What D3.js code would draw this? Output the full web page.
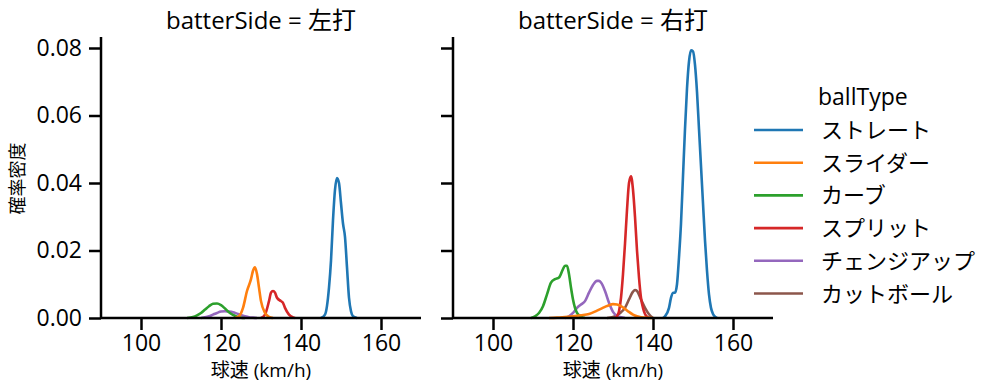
<!DOCTYPE html>
<html>
<head>
<meta charset="utf-8">
<script src="https://cdn.jsdelivr.net/npm/d3@7"></script>
<style>
  body { margin: 0; background: #fff; }
  svg text { font-family: "Open Sans", "Noto Sans CJK JP", sans-serif; fill: #000; }
</style>
</head>
<body>
<svg id="chart" width="999" height="391"></svg>
<script>
// ball types in legend order, with their colours
const ballTypes = ["ストレート", "スライダー", "カーブ", "スプリット", "チェンジアップ", "カットボール"];
const colors = ["#1f77b4", "#ff7f0e", "#2ca02c", "#d62728", "#9467bd", "#8c564b"];
const panels = ["左打", "右打"];
const xTicks = [100, 120, 140, 160];
const yTicks = [0, 0.02, 0.04, 0.06, 0.08];

// density curves: [speed, density]
const leftStraight = [[145,0],[146,0.001],[147,0.009],[147.5,0.017],[148,0.029],[148.5,0.038],[149,0.0415],[149.5,0.040],[150,0.034],[150.5,0.028],[151,0.024],[151.5,0.015],[152,0.006],[152.5,0.002],[153,0.0005],[154,0]];
const leftSlider = [[123.5,0],[124.5,0.0005],[125.5,0.003],[126.5,0.008],[127.5,0.0115],[128,0.014],[128.5,0.015],[129,0.013],[129.5,0.009],[130,0.005],[131,0.0015],[132,0.0003],[133,0]];
const leftCurve = [[111.5,0],[113,0.0003],[114,0.0008],[115,0.0015],[116,0.0025],[117,0.0035],[118,0.0042],[119,0.0043],[120,0.0038],[121,0.0028],[122,0.0017],[123,0.0009],[124,0.0004],[125,0.0001],[126,0]];
const leftSplit = [[130,0],[131,0.001],[132,0.005],[132.5,0.0075],[133,0.008],[133.5,0.0075],[134,0.006],[135,0.005],[135.5,0.0045],[136,0.003],[137,0.001],[138,0.0002],[138.5,0]];
const leftChange = [[115,0],[116,0.0002],[117,0.0005],[118,0.001],[119,0.0015],[120,0.0019],[121,0.002],[122,0.0019],[123,0.0017],[124,0.0013],[125,0.0009],[126,0.0005],[127,0.0002],[128,0.0001],[129,0]];

const rightStraight = [[142.5,0],[143,0.0005],[144,0.003],[144.5,0.006],[145,0.0075],[145.5,0.0075],[146,0.01],[146.5,0.018],[147,0.028],[147.5,0.042],[148,0.056],[148.5,0.068],[149,0.076],[149.5,0.0793],[150,0.079],[150.5,0.075],[151,0.067],[151.5,0.056],[152,0.045],[152.5,0.034],[153,0.023],[153.5,0.014],[154,0.007],[154.5,0.003],[155,0.0012],[155.5,0.0004],[156,0]];
const rightSlider = [[114,0],[116,0.0001],[118,0.0003],[120,0.0005],[122,0.0008],[124,0.0012],[126,0.0022],[128,0.0033],[129,0.0038],[130,0.0041],[131,0.004],[132,0.0035],[133,0.0027],[134,0.0018],[135,0.001],[136,0.0005],[137,0.0002],[139,0.00003],[140,0]];
const rightCurve = [[109.5,0],[110.5,0.0005],[111.5,0.0015],[112.5,0.0035],[113.5,0.007],[114.5,0.0105],[115.5,0.0115],[116.5,0.012],[117.5,0.0145],[118,0.0155],[118.5,0.0155],[119,0.013],[119.5,0.009],[120,0.0055],[120.5,0.003],[121,0.0015],[122,0.0004],[123,0]];
const rightSplit = [[130.5,0],[131,0.0005],[131.5,0.002],[132,0.006],[132.5,0.013],[133,0.022],[133.5,0.032],[134,0.040],[134.5,0.042],[135,0.038],[135.5,0.030],[136,0.020],[136.5,0.012],[137,0.006],[137.5,0.003],[138,0.0012],[138.5,0.0004],[139,0]];
const rightChange = [[118,0],[119,0.0005],[120,0.0015],[121,0.003],[122,0.004],[123,0.005],[124,0.0075],[125,0.0098],[126,0.011],[126.5,0.011],[127,0.0105],[128,0.008],[129,0.0045],[130,0.0018],[131,0.0006],[132,0.0002],[133,0]];
const rightCutter = [[128.5,0],[130,0.0003],[131,0.0008],[132,0.0017],[133,0.003],[134,0.0055],[135,0.0078],[135.5,0.0083],[136,0.008],[137,0.0055],[138,0.003],[139,0.0011],[140,0]];

const curves = [
  [leftStraight, leftSlider, leftCurve, leftSplit, leftChange, null],
  [rightStraight, rightSlider, rightCurve, rightSplit, rightChange, rightCutter]
];

const svg = d3.select("#chart");
const panelLeft = [101, 453];
const panelWidth = 320;
const plotTop = 37, plotBottom = 318;

const y = d3.scaleLinear().domain([0, 0.08326]).range([plotBottom, plotTop]);

panels.forEach((side, i) => {
  const x = d3.scaleLinear().domain([90, 170]).range([panelLeft[i], panelLeft[i] + panelWidth]);
  const g = svg.append("g");

  // curves, drawn last-to-first so the first hue sits on top
  const line = d3.line().x(d => x(d[0])).y(d => y(d[1])).curve(d3.curveMonotoneX);
  for (let k = ballTypes.length - 1; k >= 0; k--) {
    const c = curves[i][k];
    if (!c) continue;
    g.append("path")
      .attr("d", line(c))
      .attr("fill", "none")
      .attr("stroke", colors[k])
      .attr("stroke-width", 2.6)
      .attr("stroke-linejoin", "round");
  }

  // x axis
  const xAxis = g.append("g")
    .attr("transform", `translate(0,${plotBottom})`)
    .call(d3.axisBottom(x).tickValues(xTicks).tickSize(12).tickPadding(5).tickFormat(d3.format("d")));
  xAxis.select(".domain").attr("d", `M${x(90)},0H${x(170)}`).attr("stroke-width", 2.5);
  xAxis.selectAll(".tick line").attr("stroke-width", 2.5);
  xAxis.selectAll(".tick text").attr("font-size", 23);

  // y axis
  const yAxis = g.append("g")
    .attr("transform", `translate(${panelLeft[i]},0)`)
    .call(d3.axisLeft(y).tickValues(yTicks).tickSize(12).tickPadding(7).tickFormat(d3.format(".2f")));
  yAxis.select(".domain").attr("d", `M0,${plotTop}V${plotBottom}`).attr("stroke-width", 2.5);
  yAxis.selectAll(".tick line").attr("stroke-width", 2.5);
  yAxis.selectAll(".tick text").attr("font-size", 23);
  if (i > 0) yAxis.selectAll(".tick text").remove();

  // facet title
  g.append("text")
    .attr("x", panelLeft[i] + panelWidth / 2)
    .attr("y", 29)
    .attr("text-anchor", "middle")
    .attr("font-size", 24)
    .text(`batterSide = ${side}`);

  // x label
  g.append("text")
    .attr("x", panelLeft[i] + panelWidth / 2)
    .attr("y", 377)
    .attr("text-anchor", "middle")
    .attr("font-size", 19)
    .text("球速 (km/h)");
});

// y label
svg.append("text")
  .attr("transform", `translate(24,${(plotTop + plotBottom) / 2 + 1}) rotate(-90)`)
  .attr("text-anchor", "middle")
  .attr("font-size", 18)
  .text("確率密度");

// legend
const legend = svg.append("g");
legend.append("text")
  .attr("x", 818)
  .attr("y", 105)
  .attr("font-size", 23)
  .text("ballType");
ballTypes.forEach((name, k) => {
  const ly = 130 + k * 32.7;
  legend.append("line")
    .attr("x1", 754).attr("x2", 803)
    .attr("y1", ly).attr("y2", ly)
    .attr("stroke", colors[k])
    .attr("stroke-width", 2.6);
  legend.append("text")
    .attr("x", 821)
    .attr("y", ly + 8)
    .attr("font-size", 22)
    .text(name);
});
</script>
</body>
</html>
